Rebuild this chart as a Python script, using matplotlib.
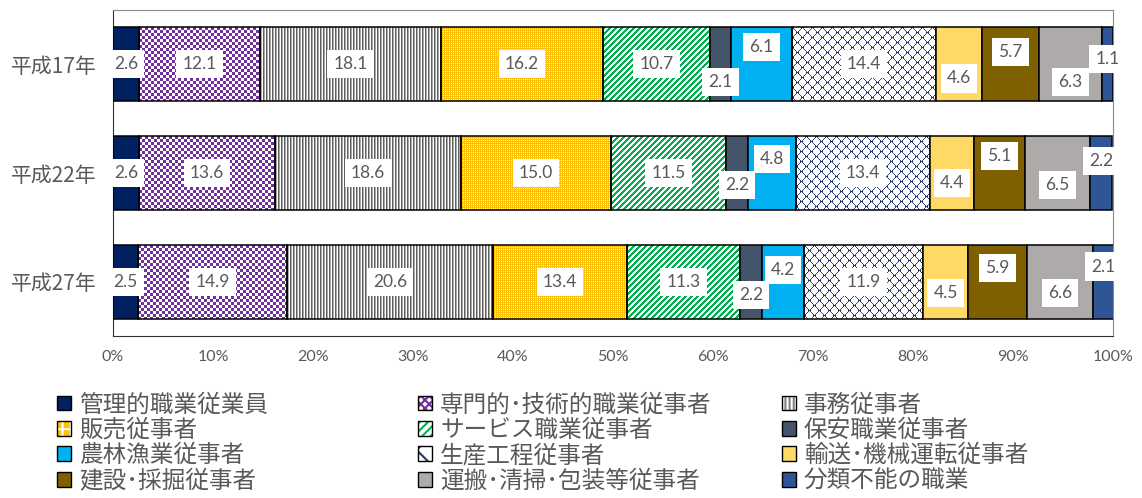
import numpy as np
import matplotlib.pyplot as plt
import matplotlib.patches as mpl_patches
from matplotlib.colors import to_rgb
from matplotlib.legend_handler import HandlerTuple

plt.rcParams['font.family'] = ['Noto Sans CJK JP', 'DejaVu Sans']
plt.rcParams['hatch.linewidth'] = 1.5

## share of workers by occupation (%)
years = ['平成17年', '平成22年', '平成27年']
jobs = ['管理的職業従業員', '専門的･技術的職業従事者', '事務従事者',
        '販売従事者', 'サービス職業従事者', '保安職業従事者',
        '農林漁業従事者', '生産工程従事者', '輸送･機械運転従事者',
        '建設･採掘従事者', '運搬･清掃･包装等従事者', '分類不能の職業']
h17 = [2.6, 12.1, 18.1, 16.2, 10.7, 2.1, 6.1, 14.4, 4.6, 5.7, 6.3, 1.1]
h22 = [2.6, 13.6, 18.6, 15.0, 11.5, 2.2, 4.8, 13.4, 4.4, 5.1, 6.5, 2.2]
h27 = [2.5, 14.9, 20.6, 13.4, 11.3, 2.2, 4.2, 11.9, 4.5, 5.9, 6.6, 2.1]

## fill styles: plain colour or a pixel pattern
fills = ['#002060', 'checker', 'vlines', 'grid', 'diag', '#44546A',
         '#00B0F0', 'lattice', '#FFD966', '#7F6000', '#AEAAAA', '#2F5597']
## legend swatches for the patterned series (face, hatch colour, hatch)
swatch = {'checker': ('white', '#7030A0', 'xxxx'),
          'vlines': ('white', '#7F7F7F', '||||'),
          'grid': ('#FFC000', 'white', '++'),
          'diag': ('white', '#00B050', '////'),
          'lattice': ('white', '#1F3864', 'x')}

## vertical nudge of each value box so the small ones don't overlap
nudge = [[0, 0, 0, 0, 0, 0.16, -0.16, 0, 0.13, -0.11, 0.165, -0.05],
         [0, 0, 0, 0, 0, 0.11, -0.13, 0, 0.09, -0.16, 0.11, -0.11],
         [0, 0, 0, 0, 0, 0.12, -0.11, 0, 0.10, -0.13, 0.10, -0.14]]


def pattern(kind, h, w):
    r, c = np.mgrid[0:h, 0:w]
    img = np.ones((h, w, 3))
    if kind == 'checker':
        mask = ((r // 3) + (c // 3)) % 2 == 0
        img[mask] = to_rgb('#7030A0')
    elif kind == 'vlines':
        img[c % 3 == 0] = to_rgb('#606060')
        img[c % 3 == 1] = to_rgb('#A8A8A8')
    elif kind == 'grid':
        img[:] = to_rgb('#FFC000')
        mask = ((r % 4 == 0) & (c % 2 == 0)) | ((c % 4 == 0) & (r % 2 == 0))
        img[mask] = to_rgb('#FFF6DC')
        img[(r % 4 == 2) & (c % 4 == 2)] = to_rgb('#FFE08A')
    elif kind == 'diag':
        img[(r + c) % 6 < 3] = to_rgb('#00B050')
    elif kind == 'lattice':
        mask = ((r + c) % 10 == 0) | ((r - c) % 10 == 0)
        knots = ((r % 10 == 0) & (c % 10 == 0)) | ((r % 10 == 5) & (c % 10 == 5))
        knots = knots | np.roll(knots, 1, axis=1) | np.roll(knots, -1, axis=1)
        img[mask] = to_rgb('#2F4478')
        img[knots] = to_rgb('#1F3864')
    return img


fig, ax = plt.subplots(figsize=(11.42, 4.98), dpi=100)
fig.subplots_adjust(left=0.099, right=0.9746, top=0.98, bottom=0.325)
ax.set_xlim(0, 100)
ax.set_ylim(2.5, -0.5)

data = np.array([h17, h22, h27])
pos = np.arange(len(years))
left = np.zeros(len(years))
handles = []
for j, job in enumerate(jobs):
    vals = data[:, j]
    kind = fills[j]
    solid = kind.startswith('#')
    bars = ax.barh(pos, vals, left=left, height=0.68,
                   color=kind if solid else 'none',
                   edgecolor='black', lw=1.1, zorder=3)
    if not solid:
        for b in bars:
            x0, y0, w, h = b.get_x(), b.get_y(), b.get_width(), b.get_height()
            p0 = ax.transData.transform((x0, y0))
            p1 = ax.transData.transform((x0 + w, y0 + h))
            wpx = max(int(round(abs(p1[0] - p0[0]))), 1)
            hpx = max(int(round(abs(p1[1] - p0[1]))), 1)
            ax.imshow(pattern(kind, hpx, wpx), extent=(x0, x0 + w, y0 + h, y0),
                      origin='upper', aspect='auto', interpolation='nearest',
                      zorder=2, clip_path=b)
        fc, hc, hatch = swatch[kind]
        handles.append((mpl_patches.Patch(facecolor=fc, edgecolor=hc, hatch=hatch, lw=0),
                        mpl_patches.Patch(fill=False, edgecolor='black', lw=1)))
    else:
        handles.append(mpl_patches.Patch(facecolor=kind, edgecolor='black', lw=1))
    ## value boxes
    for i, b in enumerate(bars):
        ax.text(b.get_x() + b.get_width() / 2, pos[i] + nudge[i][j],
                '{:.1f}'.format(vals[i]), ha='center', va='center',
                fontsize=12.5, color='#595959', family=['Lato', 'DejaVu Sans'],
                bbox=dict(boxstyle='square,pad=0.35', fc='white', ec='none'),
                zorder=5)
    left += vals

ax.set_xlim(0, 100)
ax.set_ylim(2.5, -0.5)
ax.set_yticks(pos)
ax.set_yticklabels(years, fontsize=15, color='#595959')
ax.set_xticks(np.arange(0, 101, 10))
ax.set_xticklabels(['{}%'.format(v) for v in range(0, 101, 10)],
                   fontsize=11.5, color='#595959', family=['Lato', 'DejaVu Sans'])
ax.tick_params(axis='y', length=0, pad=12)
ax.tick_params(axis='x', length=0, pad=10)
for side in ['top', 'right']:
    ax.spines[side].set_color('#8C8C8C')
for side in ['left', 'bottom']:
    ax.spines[side].set_color('#333333')

## legend: three columns, filled row by row
col_x = [57 / 1142, 418 / 1142, 782 / 1142]
for col in range(3):
    idx = [col, col + 3, col + 6, col + 9]
    fig.legend([handles[i] for i in idx], [jobs[i] for i in idx],
               loc='upper left', bbox_to_anchor=(col_x[col], 0.21),
               frameon=False, fontsize=17, labelcolor='#595959',
               handlelength=0.58, handleheight=0.58, handletextpad=0.35,
               labelspacing=0.1, borderpad=0, borderaxespad=0,
               handler_map={tuple: HandlerTuple(ndivide=1)})

plt.savefig('out.png', dpi=100)
